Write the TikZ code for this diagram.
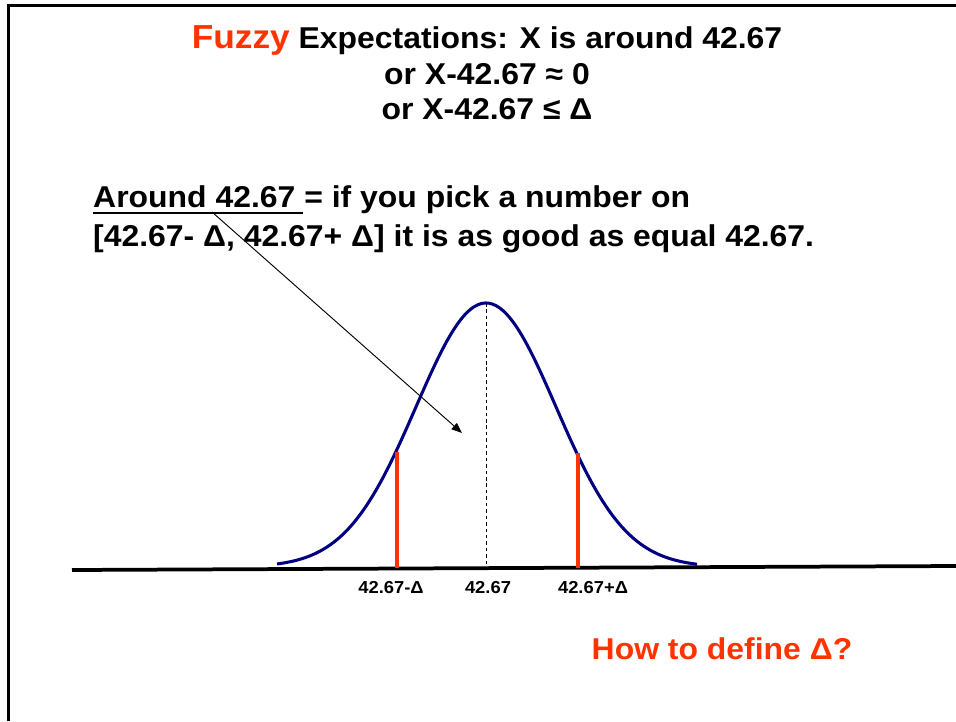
\documentclass[tikz,border=0pt]{standalone}
\usepackage{fontspec}
\setsansfont{Liberation Sans}[FakeStretch=1.06]
\usepackage{xcolor}
\usepackage{tikz}
\usetikzlibrary{arrows.meta,positioning}
\definecolor{slidered}{RGB}{255,51,0}
\definecolor{curvenavy}{RGB}{0,0,128}
\tikzset{
    slidetext/.style={font=\sffamily\bfseries\fontsize{25.7}{30}\selectfont, inner sep=0pt},
    titletext/.style={slidetext, anchor=base},
    bodytext/.style={slidetext, anchor=base west},
    ticklabel/.style={font=\sffamily\bfseries\fontsize{14.8}{17}\selectfont, inner sep=0pt, anchor=base},
    questiontext/.style={slidetext, text=slidered, anchor=base},
    framedraw/.style={line width=2.1pt},
    axisline/.style={line width=3.2pt},
    bellcurve/.style={curvenavy, line width=2.6pt, line join=round},
    deltabar/.style={slidered, line width=3.4pt},
    meanline/.style={dash pattern=on 3pt off 2.5pt, line width=0.8pt},
    pointarrow/.style={-{Triangle[length=9pt,width=7pt]}, line width=0.8pt},
    underlinedraw/.style={line width=2.4pt}
}

\begin{document}
\begin{tikzpicture}[x=0.03cm, y=-0.03cm]
        \useasboundingbox (0,0) rectangle (956,721);
        \draw[framedraw] (8.7,721) -- (8.7,5.3) -- (956,5.3);

        \node[titletext] (title1) at (487,48) {{\color{slidered}\fontsize{28.4}{30}\selectfont Fuzzy} Expectations: X is around 42.67};
        \node[titletext] (title2) at (487,84) {or X-42.67 ≈ 0};
        \node[titletext] (title3) at (487,119) {or X-42.67 ≤ Δ};

        \node[bodytext] (around) at (93,207) {Around 42.67 = if you pick a number on};
        \node[bodytext] (interval) at (93,246) {[42.67- Δ, 42.67+ Δ] it is as good as equal 42.67.};
        \draw[underlinedraw] (93,213) -- (303,213);

        \coordinate (axisleft) at (72,570);
        \coordinate (axisright) at (956,566);
        \draw[axisline] (axisleft) -- (axisright);

        \draw[bellcurve] plot[domain=277:697, samples=120, smooth] (\x, {567-264*exp(-0.5*((\x-486)/70)^2)});
        \coordinate (peak) at (486,303);
        \coordinate (meanfoot) at (486,567);
        \draw[meanline] (peak) -- (meanfoot);
        \coordinate (lowtop) at (397,452);
        \coordinate (lowfoot) at (397,568);
        \coordinate (hightop) at (578,453);
        \coordinate (highfoot) at (578,568);
        \draw[deltabar] (lowtop) -- (lowfoot);
        \draw[deltabar] (hightop) -- (highfoot);

        \coordinate (arrowstart) at (212,212);
        \coordinate (arrowend) at (462,433);
        \draw[pointarrow] (arrowstart) -- (arrowend);

        \node[ticklabel] (lowlabel) at (391,593) {42.67-Δ};
        \node[ticklabel] (meanlabel) at (488,593) {42.67};
        \node[ticklabel] (highlabel) at (593,593) {42.67+Δ};

        \node[questiontext] (question) at (722,659) {How to define Δ?};
    \end{tikzpicture}
\end{document}
